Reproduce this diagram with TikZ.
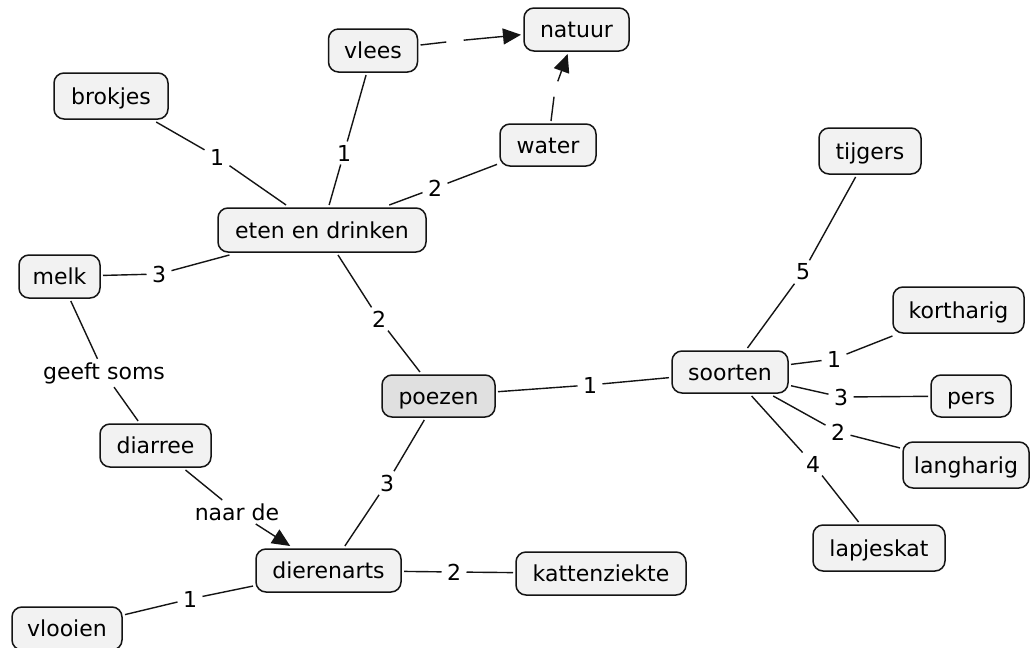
\documentclass[tikz,border=0pt]{standalone}
\usepackage{fontspec}
\setmainfont{DejaVu Sans}
\usetikzlibrary{arrows.meta}
\definecolor{boxfill}{HTML}{F2F2F2}
\definecolor{rootfill}{HTML}{E0E0E0}
\definecolor{ink}{HTML}{141414}
\tikzset{
  concept/.style={draw=ink, line width=1.5pt, fill=boxfill, rounded corners=10pt,
    inner xsep=2pt, inner ysep=0pt, text height=19pt, text depth=3pt,
    minimum height=43pt, outer sep=3pt},
  root/.style={concept, fill=rootfill},
  tall/.style={minimum height=46pt},
  lbl/.style={inner xsep=5pt, inner ysep=3pt, outer sep=0.5pt},
  blank/.style={minimum width=17pt, minimum height=15pt, inner sep=0pt},
  link/.style={draw=ink, line width=1.4pt},
  tip/.style={-{Triangle[length=18pt,width=16pt]}},
}
\begin{document}
\begin{tikzpicture}[x=1pt, y=-1pt, font=\fontsize{22}{26}\selectfont]
\useasboundingbox (0,0) rectangle (1031,648);
\fill[white] (0,0) rectangle (1031,648);

% concepts
\node[concept, minimum width=105] (natuur) at (576.5,29.5) {natuur};
\node[concept, minimum width=89] (vlees) at (373,50.5) {vlees};
\node[concept, minimum width=96, minimum height=42] (water) at (548,145) {water};
\node[concept, tall, minimum width=114] (brokjes) at (111,96) {brokjes};
\node[concept, minimum width=208, minimum height=44] (eten) at (322,230) {eten en drinken};
\node[concept, minimum width=81] (melk) at (59.5,276.5) {melk};
\node[root, minimum width=113, minimum height=42] (poezen) at (438.5,396) {poezen};
\node[concept, minimum width=111] (diarree) at (155.5,445.5) {diarree};
\node[concept, minimum width=145] (dierenarts) at (328.5,570.5) {dierenarts};
\node[concept, minimum width=110] (vlooien) at (67,628.5) {vlooien};
\node[concept, minimum width=170] (kattenziekte) at (601,573.5) {kattenziekte};
\node[concept, minimum width=116, minimum height=42] (soorten) at (730,372) {soorten};
\node[concept, tall, minimum width=102] (tijgers) at (870,151) {tijgers};
\node[concept, tall, minimum width=131] (kortharig) at (958.5,310) {kortharig};
\node[concept, minimum width=80, minimum height=42] (pers) at (971,396) {pers};
\node[concept, tall, minimum width=126] (langharig) at (966,465) {langharig};
\node[concept, tall, minimum width=132] (lapjeskat) at (879,548) {lapjeskat};

% link labels
\node[lbl] (l1) at (217,157) {1};
\node[lbl] (l2) at (344,153) {1};
\node[lbl] (l3) at (435,188) {2};
\node[lbl] (l4) at (159,274) {3};
\node[lbl] (l5) at (379,319) {2};
\node[lbl] (l6) at (104,373) {geeft soms};
\node[lbl] (l7) at (237,512) {naar de};
\node[lbl] (l8) at (387,483) {3};
\node[lbl] (l9) at (454,572) {2};
\node[lbl] (l10) at (190,599) {1};
\node[lbl] (l11) at (590,385) {1};
\node[lbl] (l12) at (803,272) {5};
\node[lbl] (l13) at (834,359) {1};
\node[lbl] (l14) at (841,397) {3};
\node[lbl] (l15) at (838,432) {2};
\node[lbl] (l16) at (813,464) {4};
\node[blank] (b1) at (455,41) {};
\node[blank] (b2) at (555,89) {};

% links
\draw[link] (brokjes) -- (l1);  \draw[link] (l1) -- (eten);
\draw[link] (vlees) -- (l2);    \draw[link] (l2) -- (eten);
\draw[link] (eten) -- (l3);     \draw[link] (l3) -- (water);
\draw[link] (vlees) -- (b1);    \draw[link, tip] (b1) -- (natuur);
\draw[link] (water) -- (b2);    \draw[link, tip] (b2) -- (natuur);
\draw[link] (melk) -- (l4);     \draw[link] (l4) -- (eten);
\draw[link] (eten) -- (l5);     \draw[link] (l5) -- (poezen);
\draw[link] (melk) -- (l6);     \draw[link] (l6) -- (diarree);
\draw[link] (diarree) -- (l7);  \draw[link, tip] (l7) -- (dierenarts);
\draw[link] (poezen) -- (l8);   \draw[link] (l8) -- (dierenarts);
\draw[link] (dierenarts) -- (l9);  \draw[link] (l9) -- (kattenziekte);
\draw[link] (dierenarts) -- (l10); \draw[link] (l10) -- (vlooien);
\draw[link] (poezen) -- (l11);  \draw[link] (l11) -- (soorten);
\draw[link] (soorten) -- (l12); \draw[link] (l12) -- (tijgers);
\draw[link] (soorten) -- (l13); \draw[link] (l13) -- (kortharig);
\draw[link] (soorten) -- (l14); \draw[link] (l14) -- (pers);
\draw[link] (soorten) -- (l15); \draw[link] (l15) -- (langharig);
\draw[link] (soorten) -- (l16); \draw[link] (l16) -- (lapjeskat);
\end{tikzpicture}
\end{document}
